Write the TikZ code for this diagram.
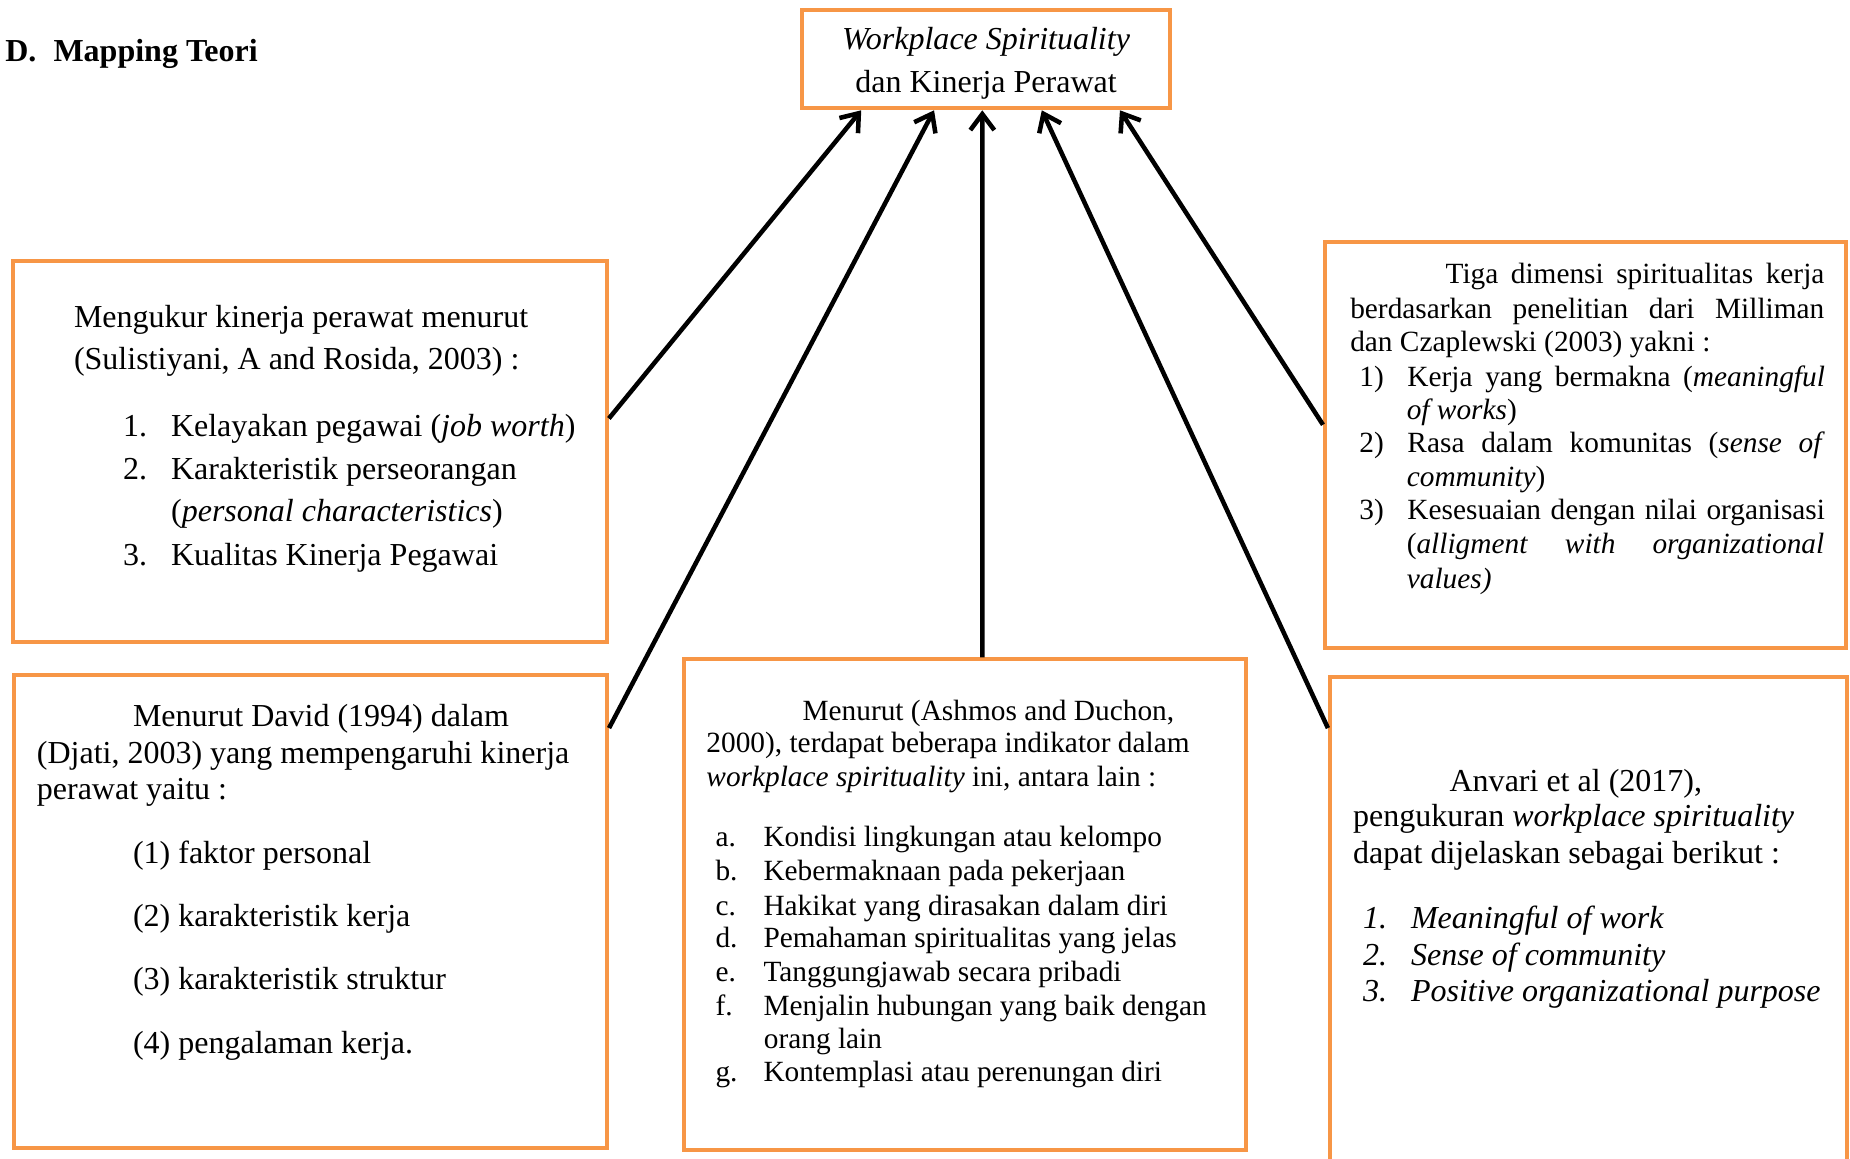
\documentclass[tikz,border=0pt]{standalone}
\usepackage{fontspec}
\setmainfont{Liberation Serif}
\usepackage{xcolor}
\usetikzlibrary{arrows.meta,fit}
\definecolor{oranye}{HTML}{F79646}
\newcommand{\nomor}[1]{\makebox[18pt][l]{#1}}

\begin{document}
\begin{tikzpicture}[x=0.4423pt, y=-0.4423pt,
  kotak/.style={draw=oranye, line width=1.5pt, inner sep=0pt},
  teks/.style={anchor=base west, inner sep=0pt, font=\fontsize{12}{14}\selectfont},
  teksk/.style={anchor=base west, inner sep=0pt, font=\fontsize{11}{13}\selectfont},
  panah/.style={-{Straight Barb[length=6pt,width=9pt]}, line width=1.7pt}]
  \useasboundingbox (0,0) rectangle (1568,982);

  % Draw judul bab
  \node[teks, font=\bfseries\fontsize{12}{14}\selectfont] (bab) at (4,52.3) {\makebox[18.1pt][l]{D.}Mapping Teori};

  % Draw kotak judul
  \node[kotak, fit={(680,8.5) (991.5,91.8)}] (judul) {};
  \node[teks, anchor=base] (judul1) at (835.75,41.8) {\textit{Workplace Spirituality}};
  \node[teks, anchor=base] (judul2) at (835.75,78.5) {dan Kinerja Perawat};

  % Draw kotak kinerja
  \node[kotak, fit={(11.4,221) (514.4,544)}] (kinerja) {};
  \node[teks] (km1) at (62.3,277.4) {Mengukur kinerja perawat menurut};
  \node[teks] (km2) at (62.3,313) {(Sulistiyani, A and Rosida, 2003) :};
  \node[teks] (km3) at (103.8,370) {\nomor{1.}Kelayakan pegawai (\textit{job worth})};
  \node[teks] (km4) at (103.8,406.8) {\nomor{2.}Karakteristik perseorangan};
  \node[teks] (km5) at (144.6,442) {(\textit{personal characteristics})};
  \node[teks] (km6) at (103.8,478.9) {\nomor{3.}Kualitas Kinerja Pegawai};

  % Draw kotak faktor
  \node[kotak, fit={(11.7,572) (514.5,973)}] (faktor) {};
  \node[teks] (dv1) at (112.3,616) {Menurut David (1994) dalam};
  \node[teks] (dv2) at (30.8,647) {(Djati, 2003) yang mempengaruhi kinerja};
  \node[teks] (dv3) at (30.8,678) {perawat yaitu :};
  \node[teks] (dv4) at (112.3,731.7) {(1) faktor personal};
  \node[teks] (dv5) at (112.3,785.5) {(2) karakteristik kerja};
  \node[teks] (dv6) at (112.3,839) {(3) karakteristik struktur};
  \node[teks] (dv7) at (112.3,892.8) {(4) pengalaman kerja.};

  % Draw kotak indikator
  \node[kotak, fit={(579.5,558.8) (1056,974.8)}] (indikator) {};
  \node[teksk] (as1) at (679.8,610.3) {Menurut (Ashmos and Duchon,};
  \node[teksk] (as2) at (598.3,638) {2000), terdapat beberapa indikator dalam};
  \node[teksk] (as3) at (598.3,666.8) {\textit{workplace spirituality} ini, antara lain :};
  \foreach [count=\i] \h/\y/\isi in {a./717.7/Kondisi lingkungan atau kelompo,
      b./746.5/Kebermaknaan pada pekerjaan,
      c./775.6/Hakikat yang dirasakan dalam diri,
      d./803.3/Pemahaman spiritualitas yang jelas,
      e./832/Tanggungjawab secara pribadi,
      f./860.3/Menjalin hubungan yang baik dengan,
      g./916.9/Kontemplasi atau perenungan diri}
    \node[teksk] (ai\i) at (606,\y) {\nomor{\h}\isi};
  \node[teksk] (ai8) at (647,888.6) {orang lain};

  % Draw kotak dimensi
  \node[kotak, fit={(1123,204.8) (1564.4,549.5)}] (dimensi) {};
  \node[teksk] (tg1) at (1224.8,240.2) {\makebox[142pt][s]{Tiga dimensi spiritualitas kerja}};
  \node[teksk] (tg2) at (1144,269.8) {\makebox[177.7pt][s]{berdasarkan penelitian dari Milliman}};
  \node[teksk] (tg3) at (1144,298.1) {dan Czaplewski (2003) yakni :};
  \node[teksk] (tg4) at (1151.8,327.2) {\nomor{1)}\makebox[156.5pt][s]{Kerja yang bermakna (\textit{meaningful}}};
  \node[teksk] (tg5) at (1191.9,355.4) {\textit{of works})};
  \node[teksk] (tg6) at (1151.8,383.7) {\nomor{2)}\makebox[156.5pt][s]{Rasa dalam komunitas (\textit{sense of}}};
  \node[teksk] (tg7) at (1191.9,412) {\textit{community})};
  \node[teksk] (tg8) at (1151.8,440.2) {\nomor{3)}\makebox[156.5pt][s]{Kesesuaian dengan nilai organisasi}};
  \node[teksk] (tg9) at (1191.9,469) {\makebox[156.5pt][s]{(\textit{alligment} \textit{with} \textit{organizational}}};
  \node[teksk] (tg10) at (1191.9,498.7) {\textit{values)}};

  % Draw kotak anvari
  \node[kotak, fit={(1127.2,573.6) (1565.5,1000)}] (anvari) {};
  \node[teks] (av1) at (1228.2,671) {Anvari et al (2017),};
  \node[teks] (av2) at (1146.5,700.7) {pengukuran \textit{workplace spirituality}};
  \node[teks] (av3) at (1146.5,731.7) {dapat dijelaskan sebagai berikut :};
  \node[teks] (av4) at (1154.8,786.8) {\textit{\nomor{1.}Meaningful of work}};
  \node[teks] (av5) at (1154.8,818) {\textit{\nomor{2.}Sense of community}};
  \node[teks] (av6) at (1154.8,849) {\textit{\nomor{3.}Positive organizational purpose}};

  % Draw panah ke judul
  \draw[panah] ([yshift=12.3pt]kinerja.east) -- ([xshift=-46.8pt]judul.south);
  \draw[panah] ([yshift=-20.7pt]faktor.north east) -- ([xshift=-19.5pt]judul.south);
  \draw[panah] ([xshift=6.6pt]indikator.north) -- ([xshift=-1.4pt]judul.south);
  \draw[panah] ([yshift=-20pt]anvari.north west) -- ([xshift=20.9pt]judul.south);
  \draw[panah] ([yshift=-69.4pt]dimensi.north west) -- ([xshift=50.2pt]judul.south);
\end{tikzpicture}
\end{document}
